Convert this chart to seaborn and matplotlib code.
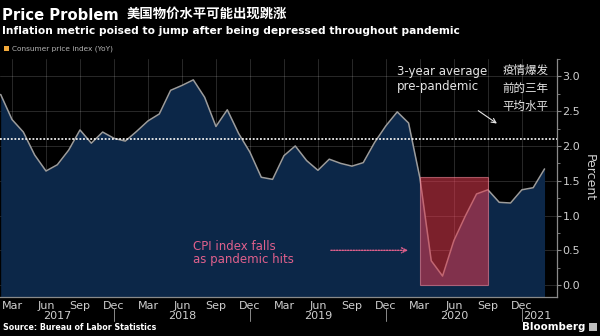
import numpy as np
import pandas as pd
import matplotlib
matplotlib.use("Agg")
import matplotlib.pyplot as plt
import seaborn as sns
from matplotlib.patches import Rectangle
import matplotlib.transforms as mtransforms

# ---------------- data ----------------
months = ["2017-02", "2017-03", "2017-04", "2017-05", "2017-06", "2017-07", "2017-08", "2017-09",
          "2017-10", "2017-11", "2017-12", "2018-01", "2018-02", "2018-03", "2018-04", "2018-05",
          "2018-06", "2018-07", "2018-08", "2018-09", "2018-10", "2018-11", "2018-12", "2019-01",
          "2019-02", "2019-03", "2019-04", "2019-05", "2019-06", "2019-07", "2019-08", "2019-09",
          "2019-10", "2019-11", "2019-12", "2020-01", "2020-02", "2020-03", "2020-04", "2020-05",
          "2020-06", "2020-07", "2020-08", "2020-09", "2020-10", "2020-11", "2020-12", "2021-01",
          "2021-02"]
cpi_yoy = [2.74, 2.38, 2.20, 1.87, 1.64, 1.73, 1.94, 2.23, 2.04, 2.20, 2.11, 2.07, 2.21, 2.36,
           2.46, 2.80, 2.87, 2.95, 2.70, 2.28, 2.52, 2.18, 1.91, 1.55, 1.52, 1.86, 2.00, 1.79,
           1.65, 1.81, 1.75, 1.71, 1.76, 2.05, 2.29, 2.49, 2.33, 1.54, 0.35, 0.13, 0.64, 0.99,
           1.31, 1.37, 1.19, 1.18, 1.37, 1.40, 1.67]
avg_pre_pandemic = 2.1
tick_month_labels = ["Mar", "Jun", "Sep", "Dec"]
year_labels = ["2017", "2018", "2019", "2020", "2021"]
year_label_pos = [5, 16, 28, 40, 47.4]       # month index of each year label
year_separators = [10, 22, 34, 46]            # month index (Dec)
pandemic_start, pandemic_end, pandemic_top = "2020-03", "2020-09", 1.55

df = pd.DataFrame({"month": months, "cpi": cpi_yoy})
df["idx"] = np.arange(len(df))
idx_of = {m: i for i, m in enumerate(months)}

# ---------------- style ----------------
sns.set_theme(style="dark")
plt.rcParams["font.family"] = ["DejaVu Sans", "Noto Sans CJK SC"]
BG = "#000000"
FILL = "#0c2748"
GRID = "#ffffff"
TXT = "#cfcfcf"
PINK = "#e0608c"

fig = plt.figure(figsize=(6.0, 3.36), dpi=100, facecolor=BG)
W, H = 600, 336
def fx(x): return x / W
def fy(y): return 1 - y / H

ax = fig.add_axes([0, fy(297), fx(557), (297 - 59) / H])
ax.set_facecolor(BG)
YMIN, YMAX = -0.171, 3.23
ax.set_xlim(-0.06, 49.1)
ax.set_ylim(YMIN, YMAX)

# area + line
ax.fill_between(df["idx"], df["cpi"], YMIN, color=FILL, lw=0, zorder=1)
sns.lineplot(data=df, x="idx", y="cpi", ax=ax, color="#9c9c9c", lw=1.1, zorder=3)

# grid
ax.set_yticks(np.arange(0, 3.01, 0.5))
ax.set_yticks(np.arange(0, 3.26, 0.25), minor=True)
major_x = list(range(1, 49, 3))
ax.set_xticks(major_x)
ax.set_xticklabels([tick_month_labels[i % 4] for i in range(len(major_x))])
ax.set_xticks(range(0, 49), minor=True)
ax.grid(True, which="major", color=GRID, alpha=0.16, lw=0.7, zorder=2)
ax.grid(False, which="minor")

# average line
ax.axhline(avg_pre_pandemic, color="#f0f0f0", lw=1.3, ls=(0, (1, 1)), zorder=4)

# pandemic rectangle
x0, x1 = idx_of[pandemic_start], idx_of[pandemic_end]
ax.add_patch(Rectangle((x0, 0), x1 - x0, pandemic_top, facecolor="#e23b50", alpha=0.55,
                       edgecolor="#ff8fa0", lw=0.8, zorder=5))

# axes styling
ax.yaxis.tick_right()
ax.yaxis.set_label_position("right")
for s in ["left", "top"]:
    ax.spines[s].set_visible(False)
for s in ["right", "bottom"]:
    ax.spines[s].set_color("#8a8a8a")
    ax.spines[s].set_linewidth(0.9)
ax.tick_params(axis="y", which="major", direction="out", length=3, width=0.8,
               colors="#8a8a8a", labelcolor=TXT, labelsize=8, pad=1)
ax.tick_params(axis="y", which="minor", direction="out", length=2, width=0.6, colors="#8a8a8a")
ax.tick_params(axis="x", which="major", direction="out", length=2.5, width=0.7,
               colors="#8a8a8a", labelcolor=TXT, labelsize=8, pad=0.5)
ax.tick_params(axis="x", which="minor", direction="out", length=2, width=0.5, colors="#8a8a8a")
ax.yaxis.set_major_formatter(matplotlib.ticker.FormatStrFormatter("%.1f"))
ax.set_xlabel("")
ax.set_ylabel("Percent", color=TXT, fontsize=9, rotation=270, labelpad=11)

# year labels and separators
trans = mtransforms.blended_transform_factory(ax.transData, ax.transAxes)
for lab, pos in zip(year_labels, year_label_pos):
    ax.text(pos, -0.08, lab, transform=trans, ha="center", va="center", color=TXT, fontsize=8)
for pos in year_separators:
    ax.plot([pos, pos], [-0.045, -0.10], transform=trans, color="#8a8a8a", lw=0.7, clip_on=False)

# annotations
ax.text(35.0, 2.96, "3-year average\npre-pandemic", color="#e6e6e6", fontsize=8.5,
        ha="left", va="center", linespacing=1.25, zorder=6)
ax.text(44.3, 2.83, "疫情爆发\n前的三年\n平均水平", color="#e6e6e6", fontsize=8.3,
        ha="left", va="center", linespacing=1.5, zorder=6)
ax.annotate("", xy=(44.0, 2.30), xytext=(41.95, 2.53),
            arrowprops=dict(arrowstyle="->", color="#e6e6e6", lw=0.8, mutation_scale=8), zorder=6)
ax.text(16.95, 0.46, "CPI index falls\nas pandemic hits", color=PINK, fontsize=8.5,
        ha="left", va="center", linespacing=1.05, zorder=6)
ax.annotate("", xy=(36.2, 0.5), xytext=(28.9, 0.5),
            arrowprops=dict(arrowstyle="->", color=PINK, lw=1.0, ls=(0, (1, 1)),
                            mutation_scale=9), zorder=6)

# titles
fig.text(fx(2), fy(15), "Price Problem", color="white", fontsize=10.6, fontweight="bold",
         ha="left", va="center")
fig.text(fx(127), fy(14), "美国物价水平可能出现跳涨", color="white", fontsize=9.6,
         fontweight="bold", ha="left", va="center")
fig.text(fx(2), fy(31), "Inflation metric poised to jump after being depressed throughout pandemic",
         color="white", fontsize=7.7, fontweight="bold", ha="left", va="center")
# legend
fig.patches.append(Rectangle((fx(4), fy(51)), fx(5), 5 / H, transform=fig.transFigure,
                             facecolor="#f2a93b", edgecolor="none"))
fig.text(fx(12), fy(48.5), "Consumer price index (YoY)", color="#b5b5b5", fontsize=5.3,
         ha="left", va="center")
# footer
fig.text(fx(3), fy(328), "Source: Bureau of Labor Statistics", color="white", fontsize=5.7,
         fontweight="bold", ha="left", va="center")
fig.text(fx(585), fy(327), "Bloomberg", color="white", fontsize=7.4, fontweight="bold",
         ha="right", va="center")
fig.patches.append(Rectangle((fx(589), fy(331)), fx(8), 8 / H, transform=fig.transFigure,
                             facecolor="#bdbdbd", edgecolor="none"))

fig.savefig("out.png", dpi=100, facecolor=BG)
